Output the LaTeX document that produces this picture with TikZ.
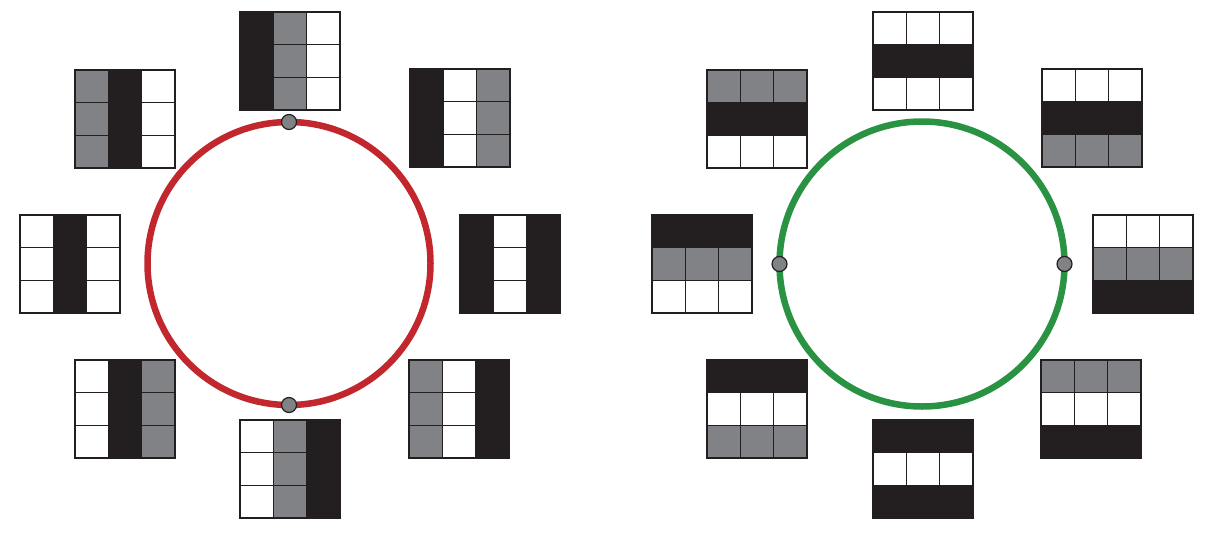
\documentclass[tikz,border=0pt]{standalone}
\definecolor{ink}{HTML}{231F20}
\definecolor{gry}{HTML}{808285}
\definecolor{wht}{HTML}{FFFFFF}
\definecolor{redc}{HTML}{C1272D}
\definecolor{grnc}{HTML}{2A9343}
\newcommand{\cw}{33.3}
\newcommand{\ch}{32.7}
% column-coloured grid: top-left x,y and column colours
\newcommand{\colgrid}[5]{%
  \foreach \c [count=\i from 0] in {#3,#4,#5}{%
    \foreach \j in {0,1,2}{%
      \filldraw[cell, fill=\c] ({#1+\i*\cw},{#2+\j*\ch}) rectangle ++(\cw,\ch);
    }%
  }%
}
% row-coloured grid
\newcommand{\rowgrid}[5]{%
  \foreach \c [count=\j from 0] in {#3,#4,#5}{%
    \foreach \i in {0,1,2}{%
      \filldraw[cell, fill=\c] ({#1+\i*\cw},{#2+\j*\ch}) rectangle ++(\cw,\ch);
    }%
  }%
}
\begin{document}
\begin{tikzpicture}[x=1pt,y=-1pt,
  cell/.style={draw=ink, line width=1.5pt},
  ring/.style={line width=6.5pt},
  dot/.style={circle, fill=gry, draw=ink, line width=1.2pt, minimum size=15pt, inner sep=0pt}]
\useasboundingbox (0,0) rectangle (1220,538);
% left grids (columns)
\colgrid{240}{12}{ink}{gry}{wht}
\colgrid{410}{69}{ink}{wht}{gry}
\colgrid{460}{215}{ink}{wht}{ink}
\colgrid{409}{360}{gry}{wht}{ink}
\colgrid{240}{420}{wht}{gry}{ink}
\colgrid{75}{360}{wht}{ink}{gry}
\colgrid{20}{215}{wht}{ink}{wht}
\colgrid{75}{70}{gry}{ink}{wht}
% right grids (rows)
\rowgrid{873}{12}{wht}{ink}{wht}
\rowgrid{1042}{69}{wht}{ink}{gry}
\rowgrid{1093}{215}{wht}{gry}{ink}
\rowgrid{1041}{360}{gry}{wht}{ink}
\rowgrid{873}{420}{ink}{wht}{ink}
\rowgrid{707}{360}{ink}{wht}{gry}
\rowgrid{652}{215}{ink}{gry}{wht}
\rowgrid{707}{70}{gry}{ink}{wht}
% circles
\draw[ring, draw=redc] (289,263.5) circle (141.5);
\draw[ring, draw=grnc] (922,264) circle (142.5);
% dots
\node[dot] (lt) at (289,122) {};
\node[dot] (lb) at (289,405) {};
\node[dot] (rl) at (779.5,264) {};
\node[dot] (rr) at (1064.5,264) {};
\end{tikzpicture}
\end{document}
